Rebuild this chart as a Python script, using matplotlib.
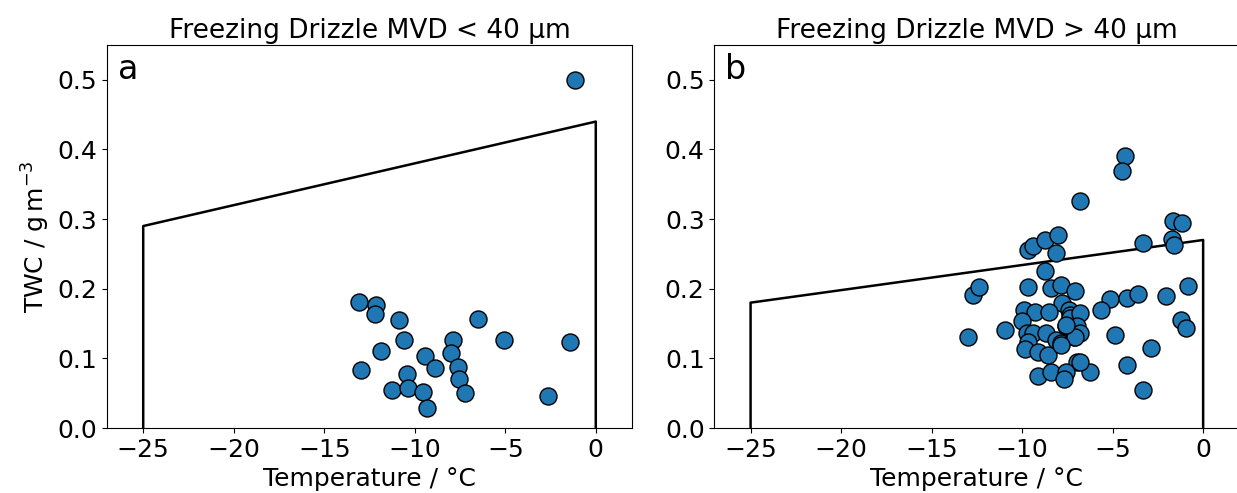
import matplotlib
matplotlib.use("Agg")
import matplotlib.pyplot as plt

# Panel a: MVD < 40 um
temp_a = [-1.15, -13.08, -12.16, -12.2, -10.86, -6.5, -10.62, -7.91, -5.09, -1.45,
          -11.87, -9.43, -7.97, -12.97, -8.86, -7.62, -10.44, -7.53, -11.23, -10.38,
          -9.56, -7.2, -2.64, -9.34]
twc_a = [0.50, 0.181, 0.176, 0.164, 0.155, 0.157, 0.126, 0.126, 0.127, 0.123,
         0.111, 0.104, 0.107, 0.084, 0.086, 0.087, 0.077, 0.070, 0.054, 0.058,
         0.052, 0.050, 0.046, 0.029]

# Panel b: MVD > 40 um
temp_b = [-12.97, -12.69, -12.36, -10.97, -9.65, -9.38, -8.74, -8.04, -8.15, -8.72,
          -9.65, -8.42, -7.87, -7.09, -7.79, -9.89, -9.29, -8.52, -7.42, -7.33,
          -10.02, -9.74, -9.38, -8.66, -8.15, -7.87, -7.6, -7.14, -9.67, -9.84,
          -9.1, -8.55, -6.96, -9.15, -8.42, -7.6, -7.69, -4.3, -4.48, -6.83,
          -1.65, -1.15, -3.3, -1.74, -1.59, -5.13, -5.63, -4.18, -3.6, -2.03,
          -0.82, -1.24, -0.95, -4.89, -2.9, -4.18, -3.3, -6.26, -6.79, -7.33,
          -6.79, -6.96, -6.79, -7.09, -7.87, -7.6]
twc_b = [0.131, 0.191, 0.202, 0.141, 0.256, 0.262, 0.270, 0.277, 0.251, 0.225,
         0.202, 0.201, 0.206, 0.197, 0.179, 0.170, 0.167, 0.166, 0.170, 0.162,
         0.153, 0.136, 0.136, 0.136, 0.126, 0.122, 0.146, 0.131, 0.123, 0.113,
         0.109, 0.105, 0.095, 0.074, 0.081, 0.081, 0.070, 0.391, 0.369, 0.326,
         0.297, 0.294, 0.266, 0.271, 0.263, 0.185, 0.169, 0.186, 0.193, 0.190,
         0.204, 0.155, 0.144, 0.134, 0.115, 0.090, 0.054, 0.081, 0.095, 0.158,
         0.165, 0.146, 0.137, 0.130, 0.119, 0.148]

# Envelope outlines
env_a_t = [-25, -25, 0, 0]
env_a_w = [0.0, 0.29, 0.44, 0.0]
env_b_t = [-25, -25, 0, 0]
env_b_w = [0.0, 0.18, 0.27, 0.0]

titles = ["Freezing Drizzle MVD < 40 µm", "Freezing Drizzle MVD > 40 µm"]
letters = ["a", "b"]

fig = plt.figure(figsize=(12.37, 4.93), dpi=100)
ax1 = fig.add_axes([0.0865, 0.1318, 0.4244, 0.777])
ax2 = fig.add_axes([0.5775, 0.1318, 0.4244, 0.777])

data = [(temp_a, twc_a, env_a_t, env_a_w), (temp_b, twc_b, env_b_t, env_b_w)]
for ax, (t, w, et, ew), title, letter in zip([ax1, ax2], data, titles, letters):
    ax.plot(et, ew, color="black", lw=1.8, zorder=1)
    ax.scatter(t, w, s=150, color="#1f77b4", edgecolor="black", linewidth=1.0, zorder=2)
    ax.set_xlim(-27, 2)
    ax.set_ylim(0, 0.55)
    ax.set_xticks([-25, -20, -15, -10, -5, 0])
    ax.set_xticklabels(["\u221225", "\u221220", "\u221215", "\u221210", "\u22125", "0"])
    ax.set_yticks([0.0, 0.1, 0.2, 0.3, 0.4, 0.5])
    ax.tick_params(labelsize=18)
    ax.set_xlabel("Temperature / °C", fontsize=18, labelpad=4)
    ax.set_title(title, fontsize=19, pad=5)
    ax.text(0.02, 0.98, letter, transform=ax.transAxes, fontsize=24, va="top", ha="left")

ax1.set_ylabel(r"TWC / g$\,$m$^{-3}$", fontsize=18)

fig.savefig("out.png", dpi=100)
